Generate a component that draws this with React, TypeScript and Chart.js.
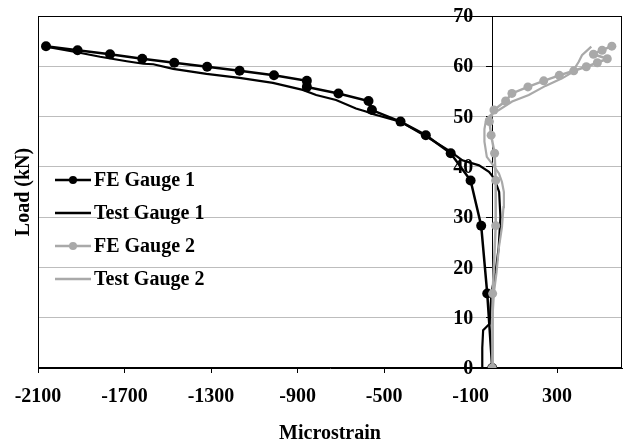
import React, { useEffect, useRef } from "react";
import { Chart, registerables } from "chart.js";

Chart.register(...registerables);

// ---- data ----
const feLoads = [0, 14.8, 28.3, 37.3, 42.7, 46.3, 49.0, 51.3, 53.1, 54.6, 55.9, 57.1, 58.2, 59.1, 59.9, 60.7, 61.5, 62.4, 63.2, 64.0];
const feGauge1Strain = [0, -23, -51, -100, -192, -307, -424, -556, -572, -711, -857, -857, -1009, -1168, -1318, -1470, -1618, -1767, -1917, -2063];
const feGauge2Strain = [0, 2, 16, 16, 11, -5, -13, 8, 62, 91, 165, 238, 310, 377, 435, 486, 532, 468, 508, 553];

const test1Load = [0, 4, 7.5, 8.8, 12, 15.2, 18.9, 24, 30, 35, 37.4, 38.2, 39.0, 40.3, 41.3, 43.0, 46.1, 49.0, 50.5, 51.0, 51.6, 53.3, 54.3, 55.3, 56.7, 57.7, 58.5, 59.5, 60.4, 60.5, 61.0, 61.9, 62.8, 63.9];
const test1Strain = [-45, -46, -42, -12, -8, -3, 15, 30, 38, 32, 12, 0, -15, -61, -138, -192, -307, -425, -553, -584, -630, -722, -814, -876, -1014, -1168, -1321, -1475, -1567, -1613, -1690, -1813, -1920, -2063];

const test2Load = [0, 5, 10, 15, 19, 24, 28, 32, 35, 37, 38.7, 40, 42, 45, 47.5, 49.5, 50.6, 51.3, 53.0, 54.3, 56.1, 57.6, 58.8, 60.9, 62.2, 63.9];
const test2Strain = [0, 0, 2, 8, 20, 31, 45, 52, 54, 45, 31, 10, -25, -36, -36, -28, 0, 31, 92, 169, 246, 323, 369, 400, 415, 458];

const xTickValues = [-2100, -1700, -1300, -900, -500, -100, 300];
const yTickValues = [0, 10, 20, 30, 40, 50, 60, 70];

const seriesNames = ["FE Gauge 1", "Test Gauge 1", "FE Gauge 2", "Test Gauge 2"];

const FONT = "'Liberation Serif', 'Times New Roman', serif";
const BLACK = "#000000";
const GRAY = "#a9a9a9";

const toPoints = (xs: number[], ys: number[]) => xs.map((x, i) => ({ x, y: ys[i] }));

const framePlugin = {
  id: "frame",
  beforeDatasetsDraw(chart: any) {
    const { ctx, chartArea } = chart;
    const l = Math.round(chartArea.left) + 0.5;
    const t = Math.round(chartArea.top) + 0.5;
    const r = Math.round(chartArea.right) - 0.5;
    const b = Math.round(chartArea.bottom) - 0.5;
    ctx.save();
    ctx.strokeStyle = BLACK;
    ctx.lineWidth = 1;
    ctx.strokeRect(l, t, r - l, b - t);
    ctx.restore();
  },
};

const overlayPlugin = {
  id: "overlay",
  afterDraw(chart: any) {
    const { ctx, chartArea, scales } = chart;

    // y tick labels beside the y axis (which crosses at x = 0)
    const axisX = scales.x.getPixelForValue(0);
    ctx.save();
    ctx.font = `bold 20px ${FONT}`;
    ctx.fillStyle = BLACK;
    ctx.textAlign = "right";
    ctx.textBaseline = "middle";
    yTickValues.forEach((v) => {
      ctx.fillText(String(v), axisX - 19, scales.y.getPixelForValue(v) + 1);
    });
    ctx.restore();

    // y-axis title
    ctx.save();
    ctx.font = `bold 20px ${FONT}`;
    ctx.fillStyle = BLACK;
    ctx.textAlign = "center";
    ctx.textBaseline = "middle";
    ctx.translate(24, 192);
    ctx.rotate(-Math.PI / 2);
    ctx.fillText("Load (kN)", 0, 0);
    ctx.restore();

    // legend
    const styles = [
      { color: BLACK, dot: true, width: 2.5 },
      { color: BLACK, dot: false, width: 2.5 },
      { color: GRAY, dot: true, width: 2.5 },
      { color: GRAY, dot: false, width: 2.5 },
    ];
    const x0 = chartArea.left + 17;
    const lineLen = 36;
    let y = 180;
    ctx.save();
    ctx.font = `bold 20px ${FONT}`;
    ctx.textAlign = "left";
    ctx.textBaseline = "middle";
    seriesNames.forEach((name, i) => {
      const s = styles[i];
      ctx.strokeStyle = s.color;
      ctx.lineWidth = s.width;
      ctx.beginPath();
      ctx.moveTo(x0, y);
      ctx.lineTo(x0 + lineLen, y);
      ctx.stroke();
      if (s.dot) {
        ctx.fillStyle = s.color;
        ctx.beginPath();
        ctx.arc(x0 + lineLen / 2, y, 4, 0, Math.PI * 2);
        ctx.fill();
      }
      ctx.fillStyle = BLACK;
      ctx.fillText(name, x0 + lineLen + 3, y + 1);
      y += 33;
    });
    ctx.restore();
  },
};

export default function App() {
  const ref = useRef<HTMLCanvasElement | null>(null);

  useEffect(() => {
    if (!ref.current) return;
    const chart = new Chart(ref.current, {
      type: "line",
      data: {
        datasets: [
          {
            label: seriesNames[2],
            data: toPoints(feGauge2Strain, feLoads),
            borderColor: GRAY,
            backgroundColor: GRAY,
            borderWidth: 2.5,
            pointRadius: 4.5,
            pointHoverRadius: 4.5,
            pointBorderWidth: 0,
            tension: 0,
          },
          {
            label: seriesNames[3],
            data: toPoints(test2Strain, test2Load),
            borderColor: GRAY,
            backgroundColor: GRAY,
            borderWidth: 2.2,
            pointRadius: 0,
            tension: 0,
          },
          {
            label: seriesNames[0],
            data: toPoints(feGauge1Strain, feLoads),
            borderColor: BLACK,
            backgroundColor: BLACK,
            borderWidth: 2.5,
            pointRadius: 5,
            pointHoverRadius: 5,
            pointBorderWidth: 0,
            tension: 0,
          },
          {
            label: seriesNames[1],
            data: toPoints(test1Strain, test1Load),
            borderColor: BLACK,
            backgroundColor: BLACK,
            borderWidth: 2.2,
            pointRadius: 0,
            tension: 0,
          },
        ],
      },
      options: {
        animation: false,
        responsive: false,
        devicePixelRatio: 1,
        layout: { padding: { left: 38, right: 3, top: 16, bottom: 0 } },
        plugins: {
          legend: { display: false },
          tooltip: { enabled: false },
        },
        scales: {
          x: {
            type: "linear",
            min: -2100,
            max: 600,
            afterBuildTicks: (scale: any) => {
              scale.ticks = xTickValues.map((v) => ({ value: v }));
            },
            afterFit: (scale: any) => {
              scale.height = 80;
            },
            grid: {
              display: true,
              drawOnChartArea: false,
              drawTicks: true,
              tickLength: 5,
              tickColor: BLACK,
            },
            border: { display: true, color: BLACK, width: 1 },
            ticks: {
              padding: 12,
              color: BLACK,
              maxRotation: 0,
              callback: (v: any) => String(v),
              font: { family: FONT, size: 20, weight: "bold" },
            },
            title: {
              display: true,
              text: "Microstrain",
              color: BLACK,
              font: { family: FONT, size: 20, weight: "bold" },
              padding: { top: 0, bottom: 2 },
            },
          },
          y: {
            type: "linear",
            position: { x: 0 } as any,
            min: 0,
            max: 70,
            afterBuildTicks: (scale: any) => {
              scale.ticks = yTickValues.map((v) => ({ value: v }));
            },
            grid: {
              display: true,
              drawOnChartArea: true,
              drawTicks: true,
              tickLength: 6,
              tickColor: BLACK,
              color: (c: any) =>
                c.tick && (c.tick.value === 0 || c.tick.value === 70) ? "rgba(0,0,0,0)" : "#bdbdbd",
              lineWidth: 1,
            },
            border: { display: true, color: BLACK, width: 1 },
            ticks: { display: false },
          },
        },
      },
      plugins: [framePlugin, overlayPlugin],
    });
    return () => chart.destroy();
  }, []);

  return (
    <div style={{ position: "fixed", left: 0, top: 0, width: 627, height: 448, background: "#fff" }}>
      <canvas ref={ref} width={627} height={448} style={{ display: "block" }} />
    </div>
  );
}
